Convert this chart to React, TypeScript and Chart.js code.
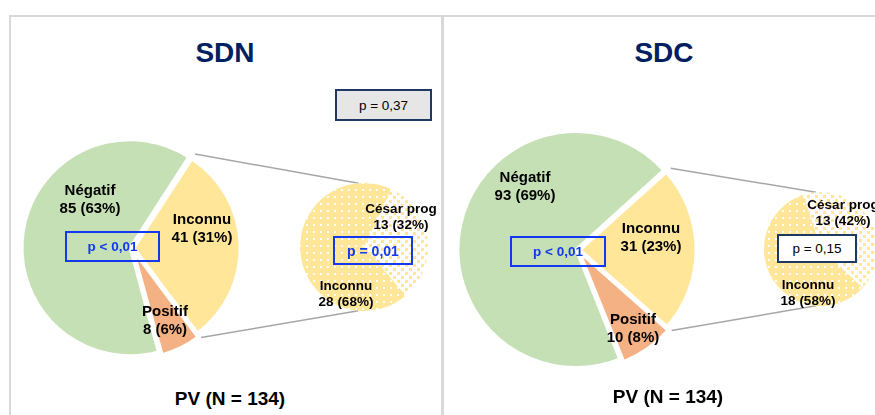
import React, { useEffect, useRef } from "react";
import { Chart, registerables } from "chart.js";

Chart.register(...registerables);

// ---------------- data ----------------
const panelTitles = ["SDN", "SDC"];
const mainCategories = ["Inconnu", "Positif", "Négatif"];
const sdnMainValues = [41, 8, 85];
const sdnMainPercents = [31, 6, 63];
const sdcMainValues = [31, 10, 93];
const sdcMainPercents = [23, 8, 69];
const subCategories = ["César prog", "Inconnu"];
const sdnSubValues = [13, 28];
const sdnSubPercents = [32, 68];
const sdcSubValues = [13, 18];
const sdcSubPercents = [42, 58];
const totalLabel = "PV (N = 134)";
const sdnPTexts = ["p < 0,01", "p = 0,01", "p = 0,37"];
const sdcPTexts = ["p < 0,01", "p = 0,15"];

// ---------------- styles / layout ----------------
const FONT = "'Liberation Sans', Arial, Helvetica, sans-serif";
const GREEN = "#c5e0b4";
const YELLOW = "#ffe699";
const ORANGE = "#f4b183";
const NAVY = "#002060";
const BLUE = "#1238f0";
const BOX_NAVY = "#1f3864";
const LINE_GREY = "#a6a6a6";
const MAIN_OFFSETS = [8, 12, 8];
const MAIN_BORDER = 3;

type PieGeom = { cx: number; cy: number; r: number; rotation: number; size: number };

const layouts = [
  {
    titleX: 225,
    pvX: 230,
    pvY: 399,
    main: { cx: 132, cy: 248, r: 106, rotation: 33, size: 260 } as PieGeom,
    sub: { cx: 364, cy: 247, r: 64, rotation: 25, size: 150 } as PieGeom,
    mainLabels: [
      [202, 228],
      [165, 320],
      [90, 199],
    ],
    subLabels: [
      [401, 217],
      [346, 294],
    ],
    mainBox: { x: 65, y: 231, w: 95, h: 31 },
    subBox: { x: 333, y: 236, w: 80, h: 29, bold: true },
    extraBox: { x: 335, y: 89, w: 97, h: 32 },
  },
  {
    titleX: 664,
    pvX: 668,
    pvY: 397,
    main: { cx: 578, cy: 250, r: 116, rotation: 48, size: 280 } as PieGeom,
    sub: { cx: 821, cy: 249, r: 57, rotation: -18, size: 140 } as PieGeom,
    mainLabels: [
      [651, 237],
      [633, 328],
      [525, 186],
    ],
    subLabels: [
      [843, 213],
      [808, 293],
    ],
    mainBox: { x: 510, y: 236, w: 96, h: 31 },
    subBox: { x: 777, y: 234, w: 80, h: 29, bold: false },
    extraBox: null as null | { x: number; y: number; w: number; h: number },
  },
];

const panelsData = [
  {
    mainValues: sdnMainValues,
    mainPercents: sdnMainPercents,
    subValues: sdnSubValues,
    subPercents: sdnSubPercents,
    pTexts: sdnPTexts,
  },
  {
    mainValues: sdcMainValues,
    mainPercents: sdcMainPercents,
    subValues: sdcSubValues,
    subPercents: sdcSubPercents,
    pTexts: sdcPTexts,
  },
];

function makeDotPattern(): CanvasPattern | string {
  const c = document.createElement("canvas");
  c.width = 7;
  c.height = 7;
  const g = c.getContext("2d");
  if (!g) return YELLOW;
  g.fillStyle = YELLOW;
  g.fillRect(0, 0, 7, 7);
  g.fillStyle = "rgba(255,255,255,0.95)";
  g.fillRect(3, 3, 2, 2);
  const ctx = document.createElement("canvas").getContext("2d");
  return (ctx && ctx.createPattern(c, "repeat")) || YELLOW;
}

function makeCheckPattern(): CanvasPattern | string {
  const c = document.createElement("canvas");
  c.width = 8;
  c.height = 8;
  const g = c.getContext("2d");
  if (!g) return "#fff3cc";
  g.fillStyle = "#ffffff";
  g.fillRect(0, 0, 8, 8);
  g.fillStyle = YELLOW;
  g.fillRect(0, 0, 3, 3);
  g.fillRect(4, 4, 3, 3);
  const ctx = document.createElement("canvas").getContext("2d");
  return (ctx && ctx.createPattern(c, "repeat")) || "#fff3cc";
}

type PieProps = {
  geom: PieGeom;
  labels: string[];
  values: number[];
  colors: () => (string | CanvasPattern)[];
  offsets: number[];
  borderWidth: number;
};

function PieCanvas({ geom, labels, values, colors, offsets, borderWidth }: PieProps) {
  const ref = useRef<HTMLCanvasElement | null>(null);
  useEffect(() => {
    const canvas = ref.current;
    if (!canvas) return;
    const chart = new Chart(canvas, {
      type: "pie",
      data: {
        labels,
        datasets: [
          {
            data: values,
            backgroundColor: colors() as any,
            borderColor: "#ffffff",
            borderWidth,
            offset: offsets,
            hoverOffset: 0,
          } as any,
        ],
      },
      options: {
        responsive: false,
        maintainAspectRatio: false,
        animation: false,
        events: [],
        rotation: geom.rotation,
        radius: geom.r,
        layout: { padding: 0 },
        plugins: { legend: { display: false }, tooltip: { enabled: false } },
      } as any,
    });
    return () => chart.destroy();
  }, []);
  return (
    <canvas
      ref={ref}
      width={geom.size}
      height={geom.size}
      style={{
        position: "absolute",
        left: geom.cx - geom.size / 2,
        top: geom.cy - geom.size / 2,
        width: geom.size,
        height: geom.size,
      }}
    />
  );
}

function Label({ x, y, lines, size, lh }: { x: number; y: number; lines: string[]; size: number; lh: number }) {
  return (
    <div
      style={{
        position: "absolute",
        left: x,
        top: y,
        transform: "translate(-50%, -50%)",
        textAlign: "center",
        whiteSpace: "nowrap",
        fontWeight: "bold",
        fontSize: size,
        lineHeight: lh + "px",
        color: "#000",
      }}
    >
      {lines.map((l, i) => (
        <div key={i}>{l}</div>
      ))}
    </div>
  );
}

function Box({
  x, y, w, h, text, border, bg, color, bold, size, bw,
}: {
  x: number; y: number; w: number; h: number; text: string; border: string; bg: string;
  color: string; bold: boolean; size: number; bw: number;
}) {
  return (
    <div
      style={{
        position: "absolute",
        left: x,
        top: y,
        width: w,
        height: h,
        boxSizing: "border-box",
        border: `${bw}px solid ${border}`,
        background: bg,
        color,
        fontWeight: bold ? "bold" : "normal",
        fontSize: size,
        display: "flex",
        alignItems: "center",
        justifyContent: "center",
        whiteSpace: "nowrap",
      }}
    >
      {text}
    </div>
  );
}

function sliceAngles(values: number[], rotation: number) {
  const total = values.reduce((a, b) => a + b, 0);
  const res: { start: number; end: number }[] = [];
  let a = rotation;
  for (const v of values) {
    const span = (v / total) * 360;
    res.push({ start: a, end: a + span });
    a += span;
  }
  return res;
}

function polar(cx: number, cy: number, r: number, deg: number) {
  const t = (deg * Math.PI) / 180;
  return { x: cx + r * Math.sin(t), y: cy - r * Math.cos(t) };
}

export default function App() {
  useEffect(() => {
    document.body.style.margin = "0";
  }, []);

  const lines: { x1: number; y1: number; x2: number; y2: number }[] = [];
  layouts.forEach((L, i) => {
    const d = panelsData[i];
    const ang = sliceAngles(d.mainValues, L.main.rotation)[0];
    const mid = (ang.start + ang.end) / 2;
    const shift = polar(0, 0, MAIN_OFFSETS[0] / 4, mid);
    const ccx = L.main.cx + shift.x;
    const ccy = L.main.cy + shift.y;
    const p1 = polar(ccx, ccy, L.main.r + 6, ang.start);
    const p2 = polar(ccx, ccy, L.main.r + 6, ang.end);
    const q1 = polar(L.sub.cx, L.sub.cy, L.sub.r, -5);
    const q2 = polar(L.sub.cx, L.sub.cy, L.sub.r, 185);
    lines.push({ x1: p1.x, y1: p1.y, x2: q1.x, y2: q1.y });
    lines.push({ x1: p2.x, y1: p2.y, x2: q2.x, y2: q2.y });
  });

  return (
    <div
      style={{
        position: "fixed",
        left: 0,
        top: 0,
        width: 875,
        height: 415,
        overflow: "hidden",
        background: "#ffffff",
        fontFamily: FONT,
      }}
    >
      {/* panel frames */}
      <div
        style={{
          position: "absolute", left: 9, top: 15, width: 434, height: 500,
          boxSizing: "border-box", border: "2px solid #d9d9d9",
        }}
      />
      <div
        style={{
          position: "absolute", left: 442, top: 15, width: 500, height: 500,
          boxSizing: "border-box", border: "2px solid #d9d9d9",
        }}
      />

      <svg width={875} height={415} style={{ position: "absolute", left: 0, top: 0 }}>
        {lines.map((l, i) => (
          <line key={i} x1={l.x1} y1={l.y1} x2={l.x2} y2={l.y2} stroke={LINE_GREY} strokeWidth={1.5} />
        ))}
      </svg>

      {layouts.map((L, i) => {
        const d = panelsData[i];
        return (
          <React.Fragment key={i}>
            <div
              style={{
                position: "absolute", left: L.titleX, top: 53, transform: "translate(-50%, -50%)",
                fontWeight: "bold", fontSize: 28, color: NAVY, whiteSpace: "nowrap",
              }}
            >
              {panelTitles[i]}
            </div>

            <PieCanvas
              geom={L.main}
              labels={mainCategories}
              values={d.mainValues}
              colors={() => [YELLOW, ORANGE, GREEN]}
              offsets={MAIN_OFFSETS}
              borderWidth={MAIN_BORDER}
            />
            <PieCanvas
              geom={L.sub}
              labels={subCategories}
              values={d.subValues}
              colors={() => [makeCheckPattern(), makeDotPattern()]}
              offsets={[0, 0]}
              borderWidth={0}
            />

            {mainCategories.map((c, k) => (
              <Label
                key={"m" + k}
                x={L.mainLabels[k][0]}
                y={L.mainLabels[k][1]}
                lines={[c, `${d.mainValues[k]} (${d.mainPercents[k]}%)`]}
                size={15}
                lh={18}
              />
            ))}
            {subCategories.map((c, k) => (
              <Label
                key={"s" + k}
                x={L.subLabels[k][0]}
                y={L.subLabels[k][1]}
                lines={[c, `${d.subValues[k]} (${d.subPercents[k]}%)`]}
                size={13.5}
                lh={16}
              />
            ))}

            <Box
              x={L.mainBox.x} y={L.mainBox.y} w={L.mainBox.w} h={L.mainBox.h}
              text={d.pTexts[0]} border={BLUE} bg="transparent" color={BLUE} bold size={13.5} bw={2}
            />
            <Box
              x={L.subBox.x} y={L.subBox.y} w={L.subBox.w} h={L.subBox.h}
              text={d.pTexts[1]}
              border={L.subBox.bold ? BLUE : BOX_NAVY}
              bg={L.subBox.bold ? "transparent" : "#ffffff"}
              color={L.subBox.bold ? BLUE : "#000000"}
              bold={L.subBox.bold}
              size={L.subBox.bold ? 14 : 13.5}
              bw={2}
            />
            {L.extraBox && (
              <Box
                x={L.extraBox.x} y={L.extraBox.y} w={L.extraBox.w} h={L.extraBox.h}
                text={d.pTexts[2]} border={BOX_NAVY} bg="#e7e6e6" color="#000000" bold={false} size={13.5} bw={2}
              />
            )}

            <div
              style={{
                position: "absolute", left: L.pvX, top: L.pvY, transform: "translate(-50%, -50%)",
                fontWeight: "bold", fontSize: 19, color: "#000", whiteSpace: "nowrap",
              }}
            >
              {totalLabel}
            </div>
          </React.Fragment>
        );
      })}
    </div>
  );
}
